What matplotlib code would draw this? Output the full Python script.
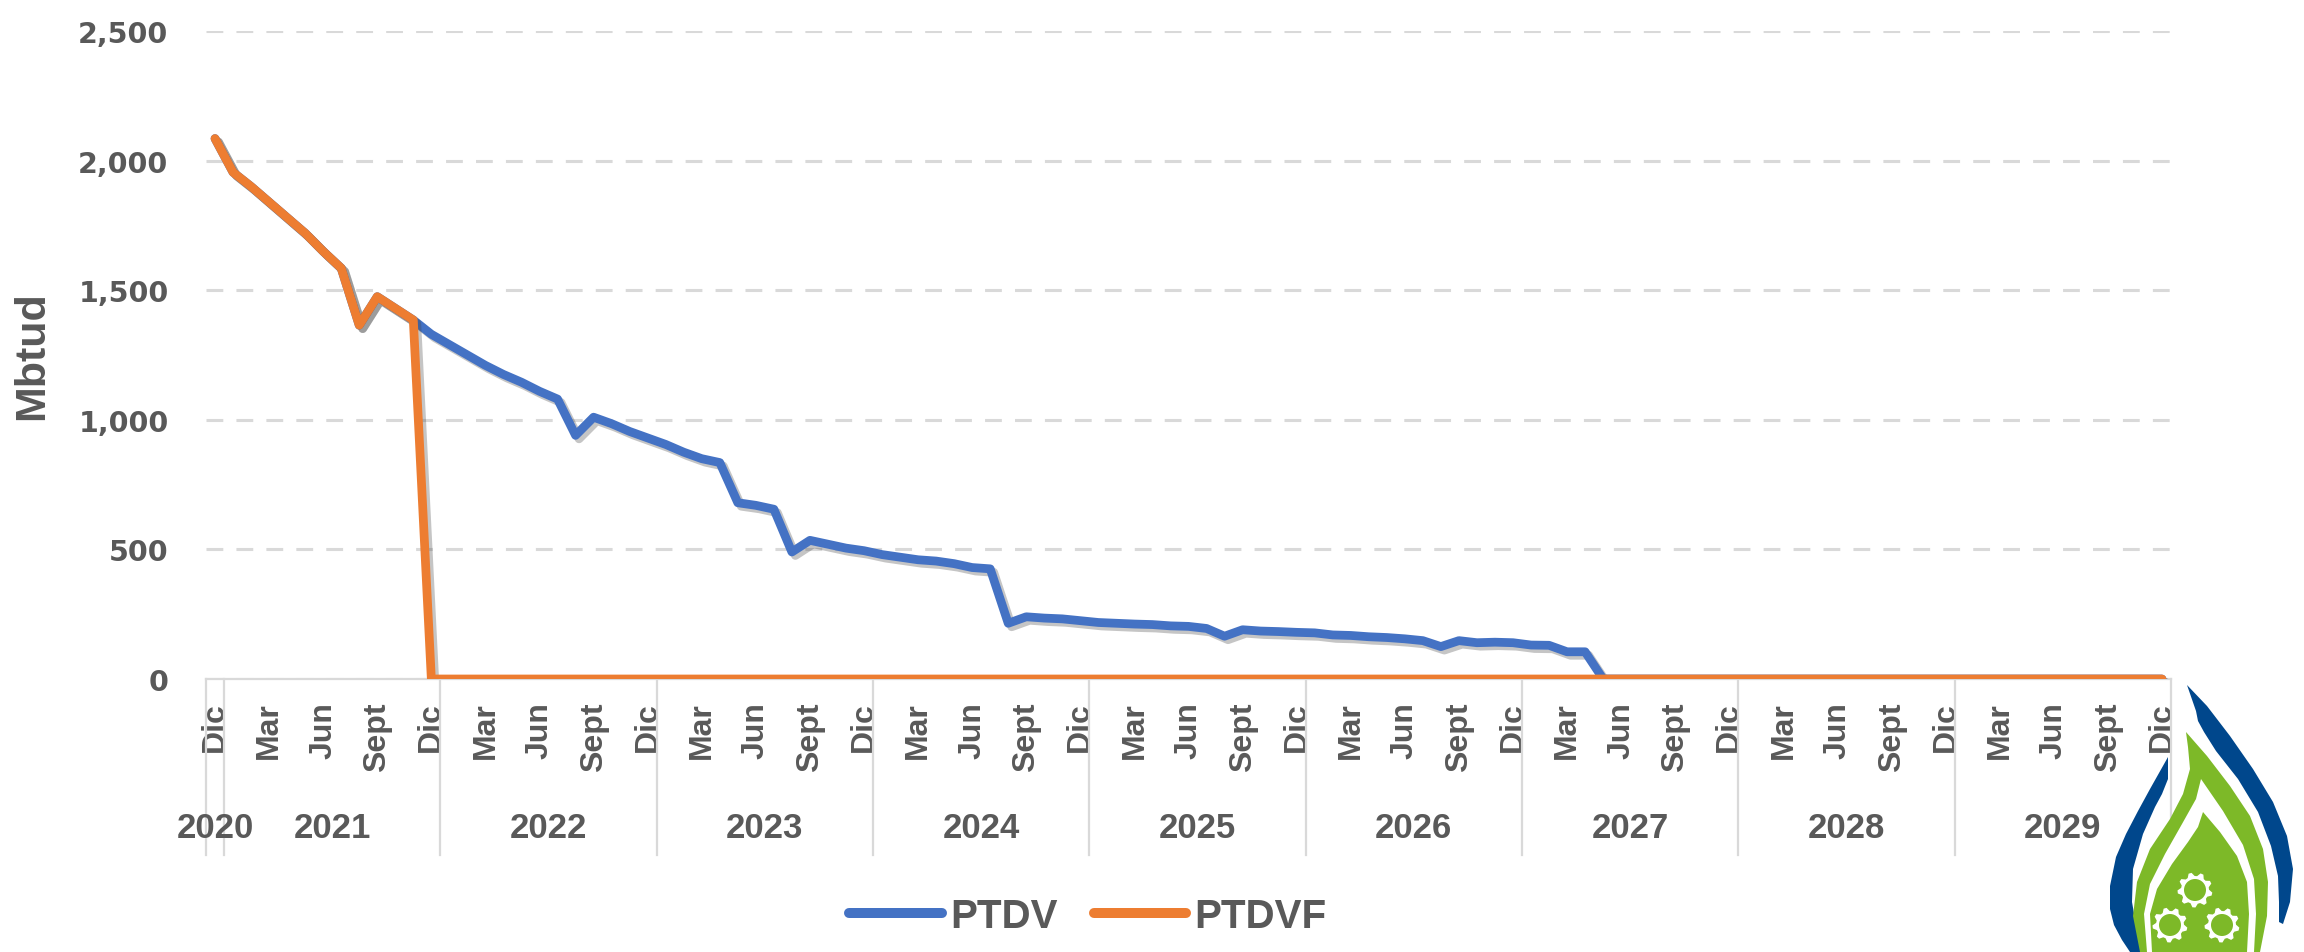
import matplotlib
matplotlib.use('Agg')
import matplotlib.pyplot as plt
import matplotlib.patheffects as pe
import matplotlib.transforms as mtransforms
from matplotlib.lines import Line2D
from matplotlib.patches import Polygon, Circle
import numpy as np

# ---- data -------------------------------------------------------------
years = ['2020', '2021', '2022', '2023', '2024', '2025', '2026', '2027', '2028', '2029']
first_month = {'2020': 12}          # 2020 only has December
month_names = ['Ene', 'Feb', 'Mar', 'Abr', 'May', 'Jun',
               'Jul', 'Ago', 'Sept', 'Oct', 'Nov', 'Dic']

# Mbtud, one value per month (Dic 2020 ... Dic 2029)
ptdv = [
    2085,
    1955, 1900, 1840, 1780, 1720, 1650, 1585, 1365, 1475, 1430, 1385, 1330,
    1290, 1250, 1210, 1175, 1145, 1110, 1080, 940, 1010, 985, 955, 930,
    905, 875, 850, 835, 680, 670, 655, 490, 535, 520, 505, 495,
    480, 470, 460, 455, 445, 430, 425, 215, 240, 235, 232, 225,
    218, 215, 212, 210, 205, 203, 195, 165, 190, 185, 183, 180,
    178, 170, 168, 163, 160, 155, 148, 125, 148, 140, 142, 140,
    131, 130, 105, 105, 0, 0, 0, 0, 0, 0, 0, 0,
    0, 0, 0, 0, 0, 0, 0, 0, 0, 0, 0, 0,
    0, 0, 0, 0, 0, 0, 0, 0, 0, 0, 0, 0,
]
ptdvf = [
    2085,
    1955, 1900, 1840, 1780, 1720, 1650, 1585, 1365, 1475, 1430, 1385, 0,
    0, 0, 0, 0, 0, 0, 0, 0, 0, 0, 0, 0,
    0, 0, 0, 0, 0, 0, 0, 0, 0, 0, 0, 0,
    0, 0, 0, 0, 0, 0, 0, 0, 0, 0, 0, 0,
    0, 0, 0, 0, 0, 0, 0, 0, 0, 0, 0, 0,
    0, 0, 0, 0, 0, 0, 0, 0, 0, 0, 0, 0,
    0, 0, 0, 0, 0, 0, 0, 0, 0, 0, 0, 0,
    0, 0, 0, 0, 0, 0, 0, 0, 0, 0, 0, 0,
    0, 0, 0, 0, 0, 0, 0, 0, 0, 0, 0, 0,
]

# category list (year, month)
cats = []
for y in years:
    for m in range(first_month.get(y, 1), 13):
        cats.append((y, m))
x = np.arange(len(cats))

# ---- style ------------------------------------------------------------
BLUE = '#4472C4'
ORANGE = '#ED7D31'
TXT = '#595959'
GRID = '#D9D9D9'
LIB = 'Liberation Sans'

W, H = 2304, 953
fig = plt.figure(figsize=(W / 100, H / 100), dpi=100)
ax = fig.add_axes([206 / W, (H - 680) / H, 1965 / W, 648 / H])

shadow = [pe.SimpleLineShadow(offset=(2.5, -2.5), shadow_color='0.25', alpha=0.3),
          pe.Normal()]
ax.plot(x, ptdv, color=BLUE, lw=6.3, solid_joinstyle='round',
        solid_capstyle='round', path_effects=shadow, zorder=3, label='PTDV')
ax.plot(x, ptdvf, color=ORANGE, lw=6.3, solid_joinstyle='round',
        solid_capstyle='round', path_effects=shadow, zorder=4, label='PTDVF')

ax.set_xlim(-0.5, len(cats) - 0.5)
ax.set_ylim(0, 2500)
ax.set_yticks(np.arange(0, 2501, 500))
ax.set_yticklabels([f'{v:,}' for v in range(0, 2501, 500)],
                   fontsize=20.5, fontweight='bold', color=TXT, family='DejaVu Sans')
ax.tick_params(axis='y', length=0, pad=27)
ax.yaxis.grid(True, color=GRID, lw=2.2, linestyle=(0, (5.5, 4.3)))
ax.set_axisbelow(True)
for s in ['top', 'right', 'left']:
    ax.spines[s].set_visible(False)
ax.spines['bottom'].set_color(GRID)
ax.spines['bottom'].set_linewidth(1.6)

ax.set_ylabel('Mbtud', fontsize=31, fontweight='bold', color=TXT, family=LIB)
ax.yaxis.set_label_coords(-0.0785, 0.50)

# month tick labels every third month
tick_pos = x[::3]
ax.set_xticks(tick_pos)
ax.set_xticklabels([month_names[cats[i][1] - 1] for i in tick_pos], rotation=90,
                   va='top', ha='center', fontsize=23, fontweight='bold',
                   color=TXT, family=LIB)
ax.tick_params(axis='x', length=0, pad=16)

# year groups: separators and labels
trans = mtransforms.blended_transform_factory(ax.transData, ax.transAxes)
sep_bottom = -(856 - 680) / 648
bounds = [-0.5]
pos = 0
for y in years:
    n = sum(1 for c in cats if c[0] == y)
    centre = pos + (n - 1) / 2
    ax.text(centre, -(829 - 680) / 648, y, transform=trans, ha='center', va='center',
            fontsize=25, fontweight='bold', color=TXT, family=LIB)
    pos += n
    bounds.append(pos - 0.5)
for b in bounds:
    ax.add_line(Line2D([b, b], [0, sep_bottom], transform=trans, color=GRID,
                       lw=1.6, clip_on=False, zorder=1))

leg = fig.legend(loc='center', bbox_to_anchor=(1088 / W, (H - 917) / H), ncol=2,
                 frameon=False, handlelength=2.3, handletextpad=0.2,
                 columnspacing=0.9, prop={'family': LIB, 'weight': 'bold', 'size': 29})
for t in leg.get_texts():
    t.set_color(TXT)
for h in leg.legend_handles:
    h.set_linewidth(7.2)
    h.set_path_effects([])

# ---- logo (bottom right) ---------------------------------------------
lg = fig.add_axes([2080 / W, 0, 224 / W, 283 / H])
lg.set_xlim(2080, 2304)
lg.set_ylim(953, 670)
lg.axis('off')
DBLUE = '#00478C'
GREEN = '#7DB928'

right_blue = [(2187, 686), (2207, 707), (2230, 737), (2253, 770), (2273, 803),
              (2287, 837), (2293, 870), (2290, 903), (2283, 925),
              (2279, 923), (2279, 903), (2278, 877), (2271, 847), (2258, 813),
              (2238, 780), (2216, 752), (2204, 733), (2198, 722), (2196, 712)]
left_blue = [(2168, 758), (2150, 790), (2138, 812), (2126, 835), (2116, 858),
             (2110, 887), (2110, 910), (2114, 926), (2122, 941), (2130, 953),
             (2146, 953), (2138, 937), (2132, 903), (2133, 870), (2143, 835),
             (2155, 808), (2162, 795), (2168, 780)]
green_outer = [(2186, 733), (2207, 757), (2230, 787), (2250, 817), (2263, 850),
               (2268, 883), (2267, 917), (2260, 953), (2140, 953), (2133, 917),
               (2137, 883), (2150, 850), (2170, 820), (2183, 795), (2190, 770),
               (2188, 748)]
white_band = [(2201, 780), (2223, 812), (2243, 846), (2254, 880), (2256, 915),
              (2254, 953), (2147, 953), (2144, 915), (2150, 885), (2165, 855),
              (2182, 825), (2196, 800)]
green_inner = [(2203, 813), (2220, 833), (2237, 857), (2247, 883), (2249, 915),
               (2247, 953), (2152, 953), (2150, 915), (2157, 890), (2172, 865),
               (2188, 843), (2198, 828)]
for pts, col in [(right_blue, DBLUE), (left_blue, DBLUE), (green_outer, GREEN),
                 (white_band, 'white'), (green_inner, GREEN)]:
    lg.add_patch(Polygon(pts, closed=True, fc=col, ec='none'))

gear_centres = [(2195, 891), (2170, 926), (2222, 926)]
teeth = 9
for cx, cy in gear_centres:
    ang = np.linspace(0, 2 * np.pi, teeth * 4, endpoint=False) + 0.15
    rad = np.tile([17.5, 17.5, 14, 14], teeth)
    lg.add_patch(Polygon(np.c_[cx + rad * np.cos(ang), cy + rad * np.sin(ang)],
                         closed=True, fc='white', ec='none'))
    lg.add_patch(Circle((cx, cy), 11, fc=GREEN, ec='none'))

fig.savefig('out.png', dpi=100)
